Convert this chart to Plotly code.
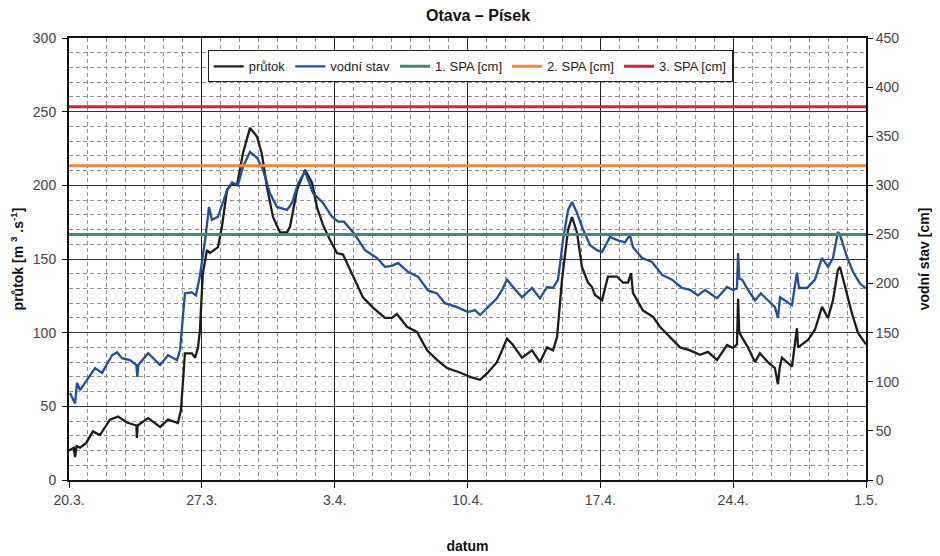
import pandas as pd
import plotly.graph_objects as go

# ---- data (days since 20.3.) ----
prutok_days = [0.0, 0.25, 0.32, 0.4, 0.58, 0.9, 1.26, 1.63, 2.16, 2.58, 3.06, 3.55, 3.58, 3.62,
               4.17, 4.80, 5.22, 5.74, 5.90, 6.11, 6.48, 6.64, 6.80, 6.90, 7.05, 7.27, 7.43,
               7.85, 8.06, 8.33, 8.59, 8.85, 9.17, 9.54, 9.91, 10.17, 10.43, 10.75, 11.12,
               11.49, 11.65, 12.02, 12.44, 12.81, 13.07, 13.39, 13.75, 14.12, 14.44, 14.97,
               15.49, 16.02, 16.65, 17.02, 17.28, 17.81, 18.34, 18.87, 19.39, 19.92, 20.60,
               21.13, 21.66, 22.08, 22.55, 22.82, 23.08, 23.40, 23.87, 24.40, 24.82, 25.19,
               25.51, 25.72, 25.98, 26.30, 26.51, 26.77, 27.03, 27.35, 27.56, 27.72, 28.09,
               28.40, 28.88, 29.19, 29.46, 29.62, 29.72, 30.25, 30.78, 31.14, 31.67, 32.20,
               32.73, 33.25, 33.67, 34.15, 34.68, 34.99, 35.20, 35.26, 35.32, 35.47, 35.78,
               36.15, 36.41, 36.83, 37.20, 37.36, 37.45, 37.57, 38.10, 38.36, 38.42, 38.94,
               39.31, 39.68, 40.00, 40.26, 40.52, 40.63, 40.89, 41.26, 41.58, 41.95, 42.0]
prutok = [20, 22, 15.6, 23, 22, 25, 33, 30.5, 41, 43, 39, 37, 28.5, 37,
          42, 36, 41, 38.7, 47.5, 86, 86, 83, 90, 102, 140, 156, 154,
          158, 172, 197, 201, 200, 222, 239, 233, 221, 199, 178.5, 168,
          168, 172, 197, 210.5, 201.6, 185, 173, 163, 154, 153, 138,
          124, 117, 110, 110, 112.7, 104, 100.5, 88, 81.5, 76, 73,
          70, 68, 73, 80, 88, 96, 91.6, 83, 88, 80, 90,
          88, 97, 136, 170, 178.5, 168, 144.6, 134, 131, 125.6, 122,
          138, 138, 134, 134, 140.5, 127, 115, 110.7, 104, 97, 90,
          88, 85, 87, 81.5, 91.6, 89.6, 92, 123, 100, 97, 90,
          80, 86, 80, 76, 65, 76, 83, 77, 103, 90, 95,
          102, 117.5, 110, 122, 142.6, 144.6, 131, 113, 99.8, 93, 92]

stav_days = [0.05, 0.32, 0.42, 0.58, 0.95, 1.37, 1.74, 2.27, 2.53, 2.79, 3.22, 3.55, 3.60, 3.65,
             4.17, 4.80, 5.22, 5.69, 5.85, 6.11, 6.48, 6.69, 6.90, 7.17, 7.38, 7.53, 7.85,
             8.33, 8.59, 8.90, 9.17, 9.54, 9.91, 10.22, 10.59, 10.96, 11.49, 11.75, 12.07,
             12.44, 12.86, 13.39, 13.86, 14.18, 14.49, 15.02, 15.60, 16.23, 16.65, 17.02,
             17.34, 17.86, 18.39, 18.92, 19.39, 19.81, 20.45, 21.03, 21.40, 21.66, 22.08,
             22.55, 22.82, 23.08, 23.40, 23.87, 24.40, 24.82, 25.19, 25.51, 25.77, 26.03,
             26.30, 26.51, 26.77, 27.09, 27.46, 27.82, 28.09, 28.51, 28.93, 29.30, 29.56,
             29.72, 30.20, 30.72, 31.25, 31.78, 32.30, 32.73, 33.15, 33.52, 34.15, 34.68,
             34.99, 35.20, 35.26, 35.32, 35.47, 35.78, 36.15, 36.46, 36.83, 37.20, 37.36,
             37.47, 38.10, 38.36, 38.47, 38.89, 39.31, 39.68, 40.00, 40.26, 40.52, 40.63,
             41.00, 41.31, 41.68, 41.95, 42.0]
vodni_stav = [88.6, 78, 99, 91.6, 102, 114, 109, 127, 130, 124, 122, 117, 105, 117,
              129, 117, 127, 122, 132, 190, 191, 188, 208, 244, 278, 265, 268,
              295, 303, 300, 319, 334, 328, 316, 292, 278, 275, 282, 302,
              314, 292, 282, 268, 263, 263, 251, 234, 226, 217, 218,
              221, 212, 207, 193, 190, 180, 176, 171, 173, 168, 176,
              185, 193.5, 204, 196.5, 186, 195.5, 185, 196.5, 195.5, 204, 244,
              275, 283, 272, 255, 239, 234, 232, 247.5, 244, 242, 249.5,
              237, 226, 222, 209, 204, 195.5, 193.5, 188, 193.5, 185, 196.5,
              193.5, 195, 231, 205, 204, 193.5, 183, 190, 183, 176, 165,
              186, 178, 211, 195.5, 195.5, 204, 226, 217, 226, 252.5, 249.5,
              227, 212, 200, 195.5, 195]

spa_names = ["1. SPA [cm]", "2. SPA [cm]", "3. SPA [cm]"]
spa_levels = [250, 320, 380]
spa_colors = ["#3f8c74", "#f0883a", "#d4213d"]

tick_days = [0, 7, 14, 21, 28, 35, 42]
tick_labels = ["20.3.", "27.3.", "3.4.", "10.4.", "17.4.", "24.4.", "1.5."]

FONT = "Liberation Sans, Arial, sans-serif"

fig = go.Figure()
fig.add_trace(go.Scatter(x=prutok_days, y=prutok, name="průtok", mode="lines",
                         line=dict(color="#1c1c1c", width=2.3), yaxis="y"))
fig.add_trace(go.Scatter(x=stav_days, y=vodni_stav, name="vodní stav", mode="lines",
                         line=dict(color="#1f4f9e", width=2.3), yaxis="y2"))
for n, lv, c in zip(spa_names, spa_levels, spa_colors):
    fig.add_trace(go.Scatter(x=[tick_days[0], tick_days[-1]], y=[lv, lv], name=n, mode="lines",
                             line=dict(color=c, width=3), yaxis="y2"))

grid_minor = dict(showgrid=True, gridcolor="#8f8f8f", griddash="4px,3px", gridwidth=1)

fig.update_layout(
    width=940, height=556,
    margin=dict(l=61, r=82, t=30, b=84),
    paper_bgcolor="white", plot_bgcolor="white",
    font=dict(family=FONT, size=13, color="#333"),
    title=dict(text="<b>Otava – Písek</b>", x=0.5, xanchor="center", y=0.987, yanchor="middle",
               yref="container", font=dict(size=16, color="#111", family=FONT)),
    showlegend=True,
    legend=dict(orientation="h", x=0.174, y=0.972, xanchor="left", yanchor="top",
                bgcolor="white", bordercolor="#222", borderwidth=1,
                font=dict(size=13, color="#222", family=FONT), traceorder="normal",
                itemwidth=30),
    xaxis=dict(range=[tick_days[0], tick_days[-1]], tickvals=tick_days, ticktext=tick_labels,
               showgrid=True, gridcolor="#222", gridwidth=1, automargin=False,
               minor=dict(dtick=1, tick0=0, **grid_minor),
               showline=True, linecolor="#111", linewidth=2, mirror=True,
               ticks="outside", ticklen=6, tickcolor="#111", zeroline=False,
               tickfont=dict(size=14, color="#444"),
               title=dict(text="<b>datum</b>", font=dict(size=14, color="#111"), standoff=34)),
    yaxis=dict(range=[0, 300], dtick=50, tick0=0, automargin=False,
               showgrid=True, gridcolor="#333", gridwidth=1,
               minor=dict(dtick=10, tick0=0, **grid_minor),
               showline=True, linecolor="#111", linewidth=2, mirror=True,
               ticks="outside", ticklen=5, tickcolor="#111", zeroline=False,
               ticklabelstandoff=3,
               tickfont=dict(size=14, color="#444"),
               title=dict(text="<b>průtok [m <sup>3</sup> .s<sup>-1</sup>]</b>",
                          font=dict(size=14, color="#111"), standoff=18)),
    yaxis2=dict(range=[0, 450], dtick=50, tick0=0, overlaying="y", side="right",
                showgrid=False, zeroline=False, showline=False, automargin=False,
                ticks="outside", ticklen=6, tickcolor="#111",
                tickfont=dict(size=14, color="#444"),
                title=dict(text="<b>vodní stav [cm]</b>", font=dict(size=14, color="#111"),
                           standoff=20)),
)

fig.write_html("out.html")
